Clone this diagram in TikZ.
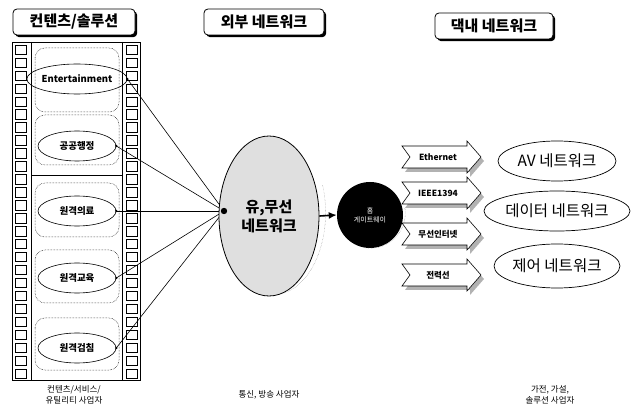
\documentclass[tikz,border=0pt]{standalone}
\usepackage{fontspec}
\setmainfont{Noto Sans CJK KR}
\usetikzlibrary{shapes.geometric,arrows.meta,shadows}
\begin{document}
\begin{tikzpicture}[x=1pt,y=-1pt,
  titlebox/.style={draw=black,line width=0.8pt,rounded corners=4pt,fill=white,
    drop shadow={shadow xshift=2.2pt,shadow yshift=-2.2pt,fill=black,opacity=1},
    minimum height=26pt,font=\bfseries\fontsize{15}{17}\selectfont,inner xsep=6pt},
  svc/.style={ellipse,draw,line width=0.6pt,minimum width=78pt,minimum height=30pt,inner sep=0pt,
    font=\bfseries\fontsize{9.5}{11}\selectfont},
  home/.style={ellipse,draw,line width=0.7pt,minimum width=118pt,minimum height=40pt,inner sep=0pt,
    font=\fontsize{15.5}{17}\selectfont},
  frame/.style={draw,densely dotted,rounded corners=10pt,line width=0.5pt},
  sprocket/.style={draw,line width=0.5pt},
  link/.style={line width=0.6pt},
  bannertxt/.style={font=\bfseries\fontsize{8.5}{9}\selectfont,inner sep=0pt},
  small/.style={font=\fontsize{8.5}{11}\selectfont,align=center}
]
\useasboundingbox (0,0) rectangle (635,414);

% title boxes
\node[titlebox,minimum width=122pt] (t1) at (74,22) {컨텐츠/솔루션};
\node[titlebox,minimum width=120pt] (t2) at (264,22) {외부 네트워크};
\node[titlebox,minimum width=118pt] (t3) at (494,26) {댁내 네트워크};

% film strip
\draw[line width=0.7pt] (12,42) rectangle (140,380);
\draw[line width=0.7pt] (31,42) -- (31,380);
\draw[line width=0.7pt] (122,42) -- (122,380);
\draw[line width=0.7pt] (31,175) -- (122,175);
\foreach \i in {0,...,25} {
  \draw[sprocket] (15,45+\i*12.95) rectangle ++(11,9.5);
  \draw[sprocket] (126,45+\i*12.95) rectangle ++(11,9.5);
}
\draw[frame] (35,48) rectangle (119,112);
\draw[frame] (35,115) rectangle (119,165);
\draw[frame] (35,183) rectangle (119,237);
\draw[frame] (35,250) rectangle (119,303);
\draw[frame] (35,318) rectangle (119,370);

\node[svc,minimum width=82pt] (s1) at (77,79) {Entertainment};
\node[svc] (s2) at (77,146) {공공행정};
\node[svc] (s3) at (77,211) {원격의료};
\node[svc] (s4) at (77,278) {원격교육};
\node[svc] (s5) at (77,348) {원격검침};

% hub and links
\coordinate (hub) at (224,211);
\foreach \s in {s1,s2,s3,s4,s5} {
  \fill (\s.east) circle (1.3);
  \draw[link] (\s.east) -- (hub);
}

% external network
\node[ellipse,draw,line width=0.8pt,fill=gray!25,minimum width=100pt,minimum height=160pt,
  align=center,font=\bfseries\fontsize{15}{19}\selectfont] (net) at (269,216) {유,무선\\네트워크};
\fill (hub) circle (3.2);
\draw[densely dotted,gray] (net.-80) arc[start angle=-80,end angle=20,x radius=52pt,y radius=82pt];

% home gateway
\node[circle,fill=black,minimum size=66pt,inner sep=0pt,text=white,align=center,
  font=\fontsize{7}{9}\selectfont] (gw) at (370,215) {홈\\게이트웨이};
\draw[densely dotted,gray] (gw.-100) arc[start angle=-100,end angle=10,radius=35pt];
\draw[line width=1.6pt,-{Latex[length=8pt,width=7pt]}] (net.east) -- (gw.west);

% banner arrows
\foreach \c/\name/\lab in {157/b1/Ethernet,193/b2/IEEE1394,234/b3/무선인터넷,275/b4/전력선} {
  \fill[gray!60] ([shift={(3,4)}]402,\c-11) -- ++(65,0) -- ++(0,-5) -- ++(14,16) -- ++(-14,16)
     -- ++(0,-5) -- ++(-65,0) -- ++(8,-11) -- cycle;
  \draw[line width=0.6pt,fill=white] (402,\c-11) -- ++(65,0) -- ++(0,-5) -- ++(14,16) -- ++(-14,16)
     -- ++(0,-5) -- ++(-65,0) -- ++(8,-11) -- cycle;
  \node[bannertxt] (\name) at (438,\c) {\lab};
}

% home networks
\node[home] (h1) at (557,161) {AV 네트워크};
\node[home] (h2) at (557,211) {데이터 네트워크};
\node[home,minimum height=44pt] (h3) at (557,266) {제어 네트워크};

% bottom labels
\node[small] (l1) at (74,395) {컨텐츠/서비스/\\유틸리티 사업자};
\node[small] (l2) at (269,395) {통신, 방송 사업자};
\node[small] (l3) at (550,395) {가전, 가설,\\솔루션 사업자};
\end{tikzpicture}
\end{document}
